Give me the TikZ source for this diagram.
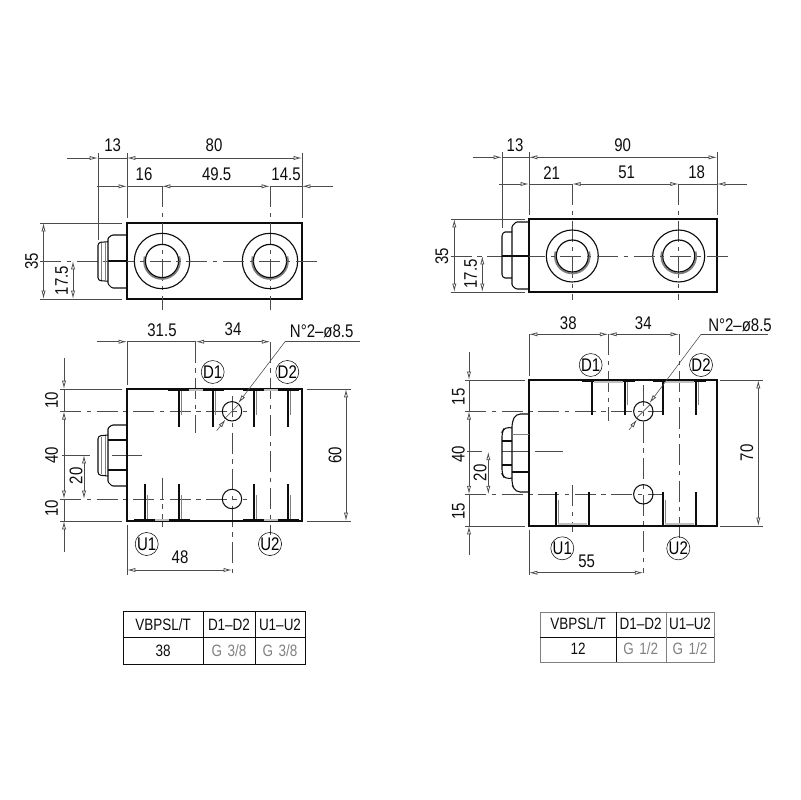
\documentclass[tikz,border=0pt]{standalone}
\usepackage{fontspec}
\setmainfont[FakeStretch=0.82]{Liberation Sans}
\usepackage{tikz}
\usetikzlibrary{arrows.meta}

\definecolor{dimgrey}{gray}{0.3}
\definecolor{inkblack}{gray}{0.05}

\tikzset{
    >={Latex[open,length=6pt,width=3pt,line width=0.55pt]},
    body/.style={draw=inkblack, line width=1pt},
    plug/.style={draw=inkblack, line width=0.75pt, rounded corners=0.8pt},
    dim/.style={draw=dimgrey, line width=0.4pt},
    axis/.style={draw=dimgrey, line width=0.45pt, dash pattern=on 15pt off 4pt on 3pt off 4pt},
    wall/.style={draw=inkblack, line width=1pt},
    thread/.style={draw=gray, line width=0.6pt},
    chamfer/.style={draw=inkblack, line width=1.1pt},
    hole/.style={circle, draw=inkblack, line width=0.75pt, minimum size=0.485cm, inner sep=0pt},
    portname/.style={circle, draw=inkblack, line width=0.4pt, minimum size=0.56cm, inner sep=0pt, font=\fontsize{13}{13}\selectfont},
    dimtext/.style={inner sep=0pt, text=inkblack, font=\fontsize{13}{13}\selectfont},
    dimvert/.style={dimtext, rotate=90},
    cell/.style={inner sep=0pt, text=inkblack, font=\fontsize{11.7}{12}\selectfont},
    cellgrey/.style={cell, text=gray}
}

\begin{document}
\begin{tikzpicture}[x=0.025cm, y=-0.025cm]
    \useasboundingbox (0,0) rectangle (800,800);

    % ---- left valve, top view ----
    \draw[body] (127,223) rectangle (302,299);
    \foreach \x in {162,270} {
        \draw[axis] (\x,186.3) -- (\x,310);
        \draw[body, line width=0.8pt] (\x,261) circle (27.7);
        \draw[thread, line width=1.2pt] (\x,261) ++(-15:18) arc (-15:195:18);
        \draw[wall, line width=0.85pt] (\x,261) circle (16.6);
    }
    \draw[axis] (40,261) -- (320,261);
    % plug
    \draw[plug] (127,235) -- (112,235) -- (108,238) -- (108,284) -- (112,288) -- (127,288);
    \draw[plug] (108,261) -- (127,261);
    \draw[plug, rounded corners=2pt] (108,241.7) -- (98,242.5) -- (98,280.5) -- (108,281.2);
    \draw[thread] (101,243) -- (101,280) (105,242) -- (105,281);
    % extension lines
    \draw[dim] (98,153) -- (98,240);
    \draw[dim] (127,153) -- (127,218);
    \draw[dim] (302,153) -- (302,218);
    \draw[dim] (40,223) -- (122,223);
    \draw[dim] (40,299) -- (122,299);
    % dimensions
    \draw[dim,->] (67,158) -- (98,158);
    \draw[dim] (98,158) -- (127,158);
    \draw[dim,<->] (127,158) -- (302,158);
    \draw[dim,->] (96.7,186.3) -- (127,186.3);
    \draw[dim] (127,186.3) -- (162,186.3);
    \draw[dim,<->] (162,186.3) -- (270,186.3);
    \draw[dim] (270,186.3) -- (302,186.3);
    \draw[dim,<-] (302,186.3) -- (333,186.3);
    \draw[dim,<->] (43.5,223) -- (43.5,299);
    \draw[dim,<->] (73,261) -- (73,299);
    \node[dimtext] (ltThirteen) at (112.7,145) {13};
    \node[dimtext] (ltEighty) at (214,145) {80};
    \node[dimtext] (ltSixteen) at (144,174) {16};
    \node[dimtext] (ltCentres) at (216.7,174) {49.5};
    \node[dimtext] (ltEdge) at (286,174) {14.5};
    \node[dimvert] (ltWidth) at (31.7,261) {35};
    \node[dimvert] (ltHalf) at (61.7,280.7) {17.5};

    % ---- left valve, front view ----
    \draw[axis] (195.7,341.7) -- (195.7,432.7);
    \draw[axis] (270.3,341.7) -- (270.3,535);
    \draw[axis] (162,477.7) -- (162,527);
    \draw[axis] (232,396) -- (232,573);
    \draw[axis] (60,411.3) -- (246.7,411.3);
    \draw[axis] (60,499) -- (246.7,499);
    \draw[dim] (61.7,455) -- (90,455);
    \draw[dim] (111.7,455) -- (141.7,455);
    \draw[body] (127,389) rectangle (302,521);
    % ports
    \foreach \a/\b in {179/213,254/288} {
        \draw[wall] (\a,389) -- (\a,427);
        \draw[wall] (\b,389) -- (\b,427);
        \draw[thread] (\a+2,391) -- (\a+2,415);
        \draw[thread] (\b+2,391) -- (\b+2,415);
        \draw[chamfer] (\a-11,390) -- (\b+11,390);
        \draw[thread, draw=lightgray, line width=0.8pt] (\a+10,390) -- (\b-10,390);
    }
    \foreach \a/\b in {145/179,254/288} {
        \draw[wall] (\a,484) -- (\a,521);
        \draw[wall] (\b,484) -- (\b,521);
        \draw[thread] (\a+2,495) -- (\a+2,519);
        \draw[thread] (\b+2,495) -- (\b+2,519);
        \draw[chamfer] (\a-11,520) -- (\b+11,520);
        \draw[thread, draw=lightgray, line width=0.8pt] (\a+10,520) -- (\b-10,520);
    }
    \node[hole] (lfHoleA) at (232,411.3) {};
    \node[hole] (lfHoleB) at (232,499) {};
    % plug
    \draw[plug] (127,425) -- (112,425) -- (108,428) -- (108,482) -- (112,486) -- (127,486);
    \draw[plug] (108,440) -- (127,440) (108,470) -- (127,470);
    \draw[plug, rounded corners=2pt] (108,435) -- (98,436) -- (98,475) -- (108,476);
    \draw[thread] (101,437) -- (101,474) (105,436) -- (105,475);
    % extension lines
    \draw[dim] (127,341.7) -- (127,385);
    \draw[dim] (127,525) -- (127,575);
    \draw[dim] (60,389) -- (122,389);
    \draw[dim] (60,521) -- (122,521);
    \draw[dim] (306.7,389) -- (350.7,389);
    \draw[dim] (306.7,521) -- (350.7,521);
    % dimensions
    \draw[dim,->] (96.7,341.7) -- (127,341.7);
    \draw[dim] (127,341.7) -- (195.7,341.7);
    \draw[dim,<->] (195.7,341.7) -- (270.3,341.7);
    \draw[dim,->] (64,358) -- (64,389);
    \draw[dim,<-] (64,411.3) -- (64,440);
    \draw[dim] (64,389) -- (64,411.3) (64,440) -- (64,470);
    \draw[dim,->] (64,470) -- (64,499);
    \draw[dim] (64,499) -- (64,521);
    \draw[dim,<-] (64,521) -- (64,551.7);
    \draw[dim,<->] (84,455) -- (84,499);
    \draw[dim,<->] (346,389) -- (346,521);
    \draw[dim,<->] (127,570) -- (232,570);
    % leader of the fixing holes
    \draw[dim] (360,341.7) -- (285,341.7);
    \draw[dim,->] (285,341.7) -- (lfHoleA);
    \draw[dim,<-] (lfHoleA) -- (216.7,430.7);
    \draw[dim] (lfHoleA.north east) -- (lfHoleA.south west);
    \node[dimtext] (lfLeft) at (162,330) {31.5};
    \node[dimtext] (lfCentre) at (233,329) {34};
    \node[dimtext] (lfHoles) at (321.7,331) {N°2–ø8.5};
    \node[dimvert] (lfTop) at (51.7,400) {10};
    \node[dimvert] (lfMid) at (51.7,455) {40};
    \node[dimvert] (lfBottom) at (51.7,508) {10};
    \node[dimvert] (lfPlug) at (76,475.7) {20};
    \node[dimvert] (lfHeight) at (335,455) {60};
    \node[dimtext] (lfSpan) at (180,557.7) {48};
    \node[portname] (lfDone) at (212.7,372) {D1};
    \node[portname] (lfDtwo) at (287.3,372) {D2};
    \node[portname] (lfUone) at (146.7,544) {U1};
    \node[portname] (lfUtwo) at (270,544) {U2};

    % ---- right valve, top view ----
    \draw[body] (529,219) rectangle (717,292);
    \foreach \x in {572.3,678.7} {
        \draw[axis] (\x,184) -- (\x,300);
        \draw[body, line width=0.8pt] (\x,256) circle (26);
        \draw[thread, line width=1.2pt] (\x,256) ++(-15:17.5) arc (-15:195:17.5);
        \draw[wall, line width=0.85pt] (\x,256) circle (16);
    }
    \draw[axis] (450.7,256) -- (733,256);
    % plug
    \draw[plug] (529,222) -- (516,222) -- (512,226) -- (512,285.5) -- (516,289) -- (529,289);
    \draw[plug] (512,256) -- (529,256);
    \draw[plug] (512,232) -- (504,232) -- (502,235) -- (502,275.5) -- (504,278) -- (512,278);
    \draw[plug] (502,256) -- (512,256);
    % extension lines
    \draw[dim] (502,152) -- (502,228);
    \draw[dim] (529,152) -- (529,215);
    \draw[dim] (717,152) -- (717,215);
    \draw[dim] (450.7,219) -- (525,219);
    \draw[dim] (450.7,292) -- (525,292);
    % dimensions
    \draw[dim,->] (472.7,157.3) -- (502,157.3);
    \draw[dim] (502,157.3) -- (529,157.3);
    \draw[dim,<->] (529,157.3) -- (717,157.3);
    \draw[dim,->] (499.3,184) -- (529,184);
    \draw[dim] (529,184) -- (572.3,184);
    \draw[dim,<->] (572.3,184) -- (678.7,184);
    \draw[dim] (678.7,184) -- (717,184);
    \draw[dim,<-] (717,184) -- (746.7,184);
    \draw[dim,<->] (454.3,219) -- (454.3,292);
    \draw[dim,<->] (482.3,256) -- (482.3,292);
    \node[dimtext] (rtThirteen) at (515,145) {13};
    \node[dimtext] (rtNinety) at (622.7,145) {90};
    \node[dimtext] (rtFirst) at (551.7,172.7) {21};
    \node[dimtext] (rtCentres) at (626.7,172.7) {51};
    \node[dimtext] (rtEdge) at (696.7,172.7) {18};
    \node[dimvert] (rtWidth) at (441.7,256) {35};
    \node[dimvert] (rtHalf) at (470.7,274) {17.5};

    % ---- right valve, front view ----
    \draw[axis] (608.3,334.3) -- (608.3,421);
    \draw[axis] (679,334.3) -- (679,541.7);
    \draw[axis] (572.7,485) -- (572.7,531.7);
    \draw[axis] (643.3,385) -- (643.3,573);
    \draw[axis] (465,411.3) -- (663,411.3);
    \draw[axis] (465,494.3) -- (663,494.3);
    \draw[dim] (467,451.7) -- (482,451.7);
    \draw[dim] (502,451.7) -- (529,451.7);
    \draw[dim] (535,451.7) -- (563,451.7);
    \draw[body] (529,380) rectangle (717,526);
    % ports
    \foreach \a/\b in {592/625,663/696} {
        \draw[wall] (\a,380) -- (\a,415);
        \draw[wall] (\b,380) -- (\b,415);
        \draw[thread] (\b+2,382) -- (\b+2,405);
        \draw[chamfer, line width=0.7pt] (\a-10,381) -- (\b+10,381);
        \draw[thread, draw=lightgray, line width=0.8pt] (\a+2,382) -- (\b-2,382);
    }
    \foreach \a/\b in {556/589,663/696} {
        \draw[wall] (\a,492) -- (\a,526);
        \draw[wall] (\b,492) -- (\b,526);
        \draw[thread] (\a+2,500) -- (\a+2,524);
        \draw[chamfer, line width=0.7pt] (\a-10,525) -- (\b+10,525);
        \draw[thread, draw=lightgray, line width=0.8pt] (\a+2,524) -- (\b-2,524);
    }
    \node[hole] (rfHoleA) at (643.3,411.3) {};
    \node[hole] (rfHoleB) at (643.3,494.3) {};
    % plug
    \draw[plug, rounded corners=3pt] (529,414) -- (516,414) -- (512,422) -- (512,485) -- (516,492) -- (529,492);
    \draw[thread] (512,434) -- (529,434);
    \draw[plug] (512,472) -- (529,472);
    \draw[plug, rounded corners=3pt] (512,428) -- (505,427) -- (502,432) -- (502,474) -- (505,479) -- (512,478);
    \draw[plug] (502,441) -- (512,441) (502,465) -- (512,465);
    % extension lines
    \draw[dim] (529,334.3) -- (529,376);
    \draw[dim] (529,530) -- (529,575);
    \draw[dim] (465,380) -- (525,380);
    \draw[dim] (465,526) -- (525,526);
    \draw[dim] (720,380) -- (762.7,380);
    \draw[dim] (720,526) -- (762.7,526);
    % dimensions
    \draw[dim,<->] (529,334.3) -- (608.3,334.3);
    \draw[dim,<->] (608.3,334.3) -- (679,334.3);
    \draw[dim,->] (469,351.7) -- (469,380);
    \draw[dim] (469,380) -- (469,411.3);
    \draw[dim,<-] (469,411.3) -- (469,450);
    \draw[dim,->] (469,450) -- (469,494.3);
    \draw[dim] (469,494.3) -- (469,526);
    \draw[dim,<-] (469,526) -- (469,555);
    \draw[dim,<->] (488.3,451.7) -- (488.3,494.3);
    \draw[dim,<->] (758.3,380) -- (758.3,526);
    \draw[dim,<->] (529,572.7) -- (643.3,572.7);
    % leader of the fixing holes
    \draw[dim] (768,334.3) -- (701,334.3);
    \draw[dim,->] (701,334.3) -- (rfHoleA);
    \draw[dim,<-] (rfHoleA) -- (629,430);
    \draw[dim] (rfHoleA.north east) -- (rfHoleA.south west);
    \node[dimtext] (rfLeft) at (568.3,323.3) {38};
    \node[dimtext] (rfCentre) at (643.3,323.3) {34};
    \node[dimtext] (rfHoles) at (740,325) {N°2–ø8.5};
    \node[dimvert] (rfTop) at (458.3,396.7) {15};
    \node[dimvert] (rfMid) at (458.3,454) {40};
    \node[dimvert] (rfBottom) at (458.3,511) {15};
    \node[dimvert] (rfPlug) at (480,472.7) {20};
    \node[dimvert] (rfHeight) at (746.7,452.7) {70};
    \node[dimtext] (rfSpan) at (586.7,561) {55};
    \node[portname] (rfDone) at (590.7,365) {D1};
    \node[portname] (rfDtwo) at (701,365) {D2};
    \node[portname] (rfUone) at (562.3,548.3) {U1};
    \node[portname] (rfUtwo) at (678.3,548.3) {U2};

    % ---- left table ----
    \draw[body, line width=0.7pt] (123,611) rectangle (305,664);
    \draw[body, line width=0.7pt] (123,637) -- (305,637);
    \draw[body, line width=0.7pt] (203,611) -- (203,664);
    \draw[body, line width=0.7pt] (255,611) -- (255,664);
    \node[cell] (ltabType) at (163,624.5) {VBPSL/T};
    \node[cell] (ltabD) at (229,624.5) {D1–D2};
    \node[cell] (ltabU) at (280,624.5) {U1–U2};
    \node[cell] (ltabSize) at (163,650.5) {38};
    \node[cellgrey] (ltabDthread) at (229,650.5) {G\,\,3/8};
    \node[cellgrey] (ltabUthread) at (280,650.5) {G\,\,3/8};

    % ---- right table ----
    \draw[draw=gray, line width=0.6pt] (540,612) rectangle (714,662);
    \draw[body, line width=0.5pt] (540,637) -- (714,637);
    \draw[body, line width=0.5pt] (616,612) -- (616,662);
    \draw[draw=gray, line width=0.5pt] (666,612) -- (666,662);
    \node[cell] (rtabType) at (578,624) {VBPSL/T};
    \node[cell] (rtabD) at (640.7,624) {D1–D2};
    \node[cell] (rtabU) at (690,624) {U1–U2};
    \node[cell] (rtabSize) at (578,649) {12};
    \node[cellgrey] (rtabDthread) at (640.7,649) {G\,\,1/2};
    \node[cellgrey] (rtabUthread) at (690,649) {G\,\,1/2};
\end{tikzpicture}
\end{document}
